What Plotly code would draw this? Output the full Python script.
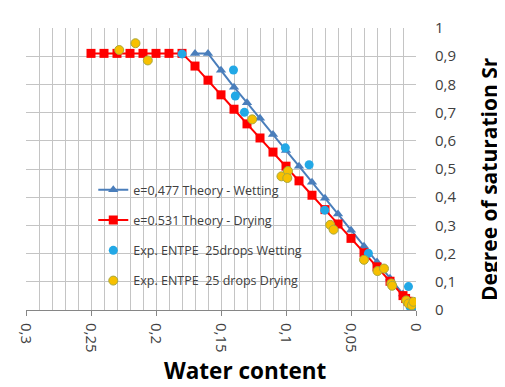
import plotly.graph_objects as go

# Theory - wetting (e=0,477)
w_wet = [0.17, 0.16, 0.15, 0.14, 0.13, 0.12, 0.11, 0.10, 0.09, 0.08, 0.07, 0.06,
         0.05, 0.04, 0.03, 0.02, 0.01, 0.008, 0.006, 0.004, 0.002, 0.0]
sr_wet = [0.91, 0.91, 0.85, 0.79, 0.735, 0.68, 0.622, 0.566, 0.51, 0.453, 0.396, 0.34,
          0.283, 0.226, 0.17, 0.113, 0.057, 0.045, 0.034, 0.023, 0.011, 0.0]

# Theory - drying (e=0.531)
w_dry = [0.25, 0.24, 0.23, 0.22, 0.21, 0.20, 0.19, 0.18, 0.17, 0.16, 0.15, 0.14, 0.13,
         0.12, 0.11, 0.10, 0.09, 0.08, 0.07, 0.06, 0.05, 0.04, 0.03, 0.02, 0.01,
         0.008, 0.006, 0.004, 0.002, 0.0]
sr_dry = [0.91, 0.91, 0.91, 0.91, 0.91, 0.91, 0.91, 0.91, 0.865, 0.815, 0.763, 0.712, 0.66,
          0.61, 0.56, 0.51, 0.458, 0.407, 0.356, 0.305, 0.254, 0.203, 0.153, 0.102, 0.051,
          0.041, 0.031, 0.02, 0.01, 0.0]

# Experimental - wetting
w_exp_wet = [0.18, 0.1404, 0.139, 0.132, 0.1005, 0.0822, 0.0702, 0.0366, 0.0058, 0.0045, 0.002]
sr_exp_wet = [0.908, 0.851, 0.759, 0.701, 0.575, 0.515, 0.354, 0.201, 0.083, 0.011, 0.005]

# Experimental - drying
w_exp_dry = [0.2283, 0.2158, 0.2063, 0.126, 0.1035, 0.0985, 0.099, 0.066, 0.0634, 0.040,
             0.0296, 0.0246, 0.019, 0.0183, 0.0075, 0.0058, 0.0032, 0.002]
sr_exp_dry = [0.922, 0.946, 0.885, 0.676, 0.474, 0.493, 0.468, 0.302, 0.285, 0.178,
              0.138, 0.147, 0.094, 0.086, 0.034, 0.023, 0.017, 0.029]

names = ["e=0,477 Theory - Wetting", "e=0.531 Theory - Drying",
         "Exp. ENTPE  25drops Wetting", "Exp. ENTPE  25 drops Drying"]

fig = go.Figure()
fig.add_trace(go.Scatter(x=w_wet, y=sr_wet, mode="lines+markers", name=names[0],
                         legendgroup="a",
                         line=dict(color="#4A7EBB", width=2),
                         marker=dict(symbol="triangle-up", size=9, color="#4A7EBB")))
fig.add_trace(go.Scatter(x=w_dry, y=sr_dry, mode="lines+markers", name=names[1],
                         legendgroup="b",
                         line=dict(color="#FF0000", width=2),
                         marker=dict(symbol="square", size=9, color="#FF0000")))
fig.add_trace(go.Scatter(x=w_exp_wet, y=sr_exp_wet, mode="markers", name=names[2],
                         legendgroup="c",
                         marker=dict(symbol="circle", size=9, color="#22A8E6",
                                     line=dict(width=0))))
fig.add_trace(go.Scatter(x=w_exp_dry, y=sr_exp_dry, mode="markers", name=names[3],
                         legendgroup="d",
                         marker=dict(symbol="circle", size=9, color="#F7C000",
                                     line=dict(width=1, color="#A8A83C"))))

grid = "#C4C4C4"
fig.update_layout(
    width=497, height=379,
    margin=dict(l=9, r=89, t=12, b=77),
    paper_bgcolor="white", plot_bgcolor="white",
    separators=", ",
    font=dict(family="Open Sans", color="#404040"),
    showlegend=True,
    legend=dict(x=0.1725, y=0.478, xanchor="left", yanchor="top",
                bgcolor="rgba(0,0,0,0)", font=dict(size=12.5, color="#404040"),
                tracegroupgap=11, itemwidth=30),
    xaxis=dict(range=[0.3, 0], dtick=0.05, tick0=0, tickangle=90,
               showgrid=True, gridcolor=grid, gridwidth=1,
               minor=dict(dtick=0.01, showgrid=True, gridcolor=grid, gridwidth=1),
               showline=True, linecolor="#868686", linewidth=1,
               ticks="outside", ticklen=5, tickcolor="#868686",
               ticklabelstandoff=4,
               tickfont=dict(size=15, color="#404040"), zeroline=False),
    yaxis=dict(range=[0, 1], dtick=0.1, side="right",
               showgrid=True, gridcolor=grid, gridwidth=1,
               ticks="", ticklabelstandoff=18,
               tickfont=dict(size=15, color="#404040"), zeroline=False),
    annotations=[
        dict(text="<b>Water content</b>", xref="paper", yref="paper",
             x=(242 - 17) / 399, y=-(372 - 310) / 290, xanchor="center", yanchor="middle",
             showarrow=False, font=dict(size=22.5, color="black", family="Open Sans")),
        dict(text="<b>Degree of saturation Sr</b>", xref="paper", yref="paper",
             x=(490 - 17) / 399, y=(310 - 175) / 290, xanchor="center", yanchor="middle",
             textangle=-90, showarrow=False,
             font=dict(size=21, color="black", family="Open Sans")),
    ],
)

fig.write_html("out.html")
